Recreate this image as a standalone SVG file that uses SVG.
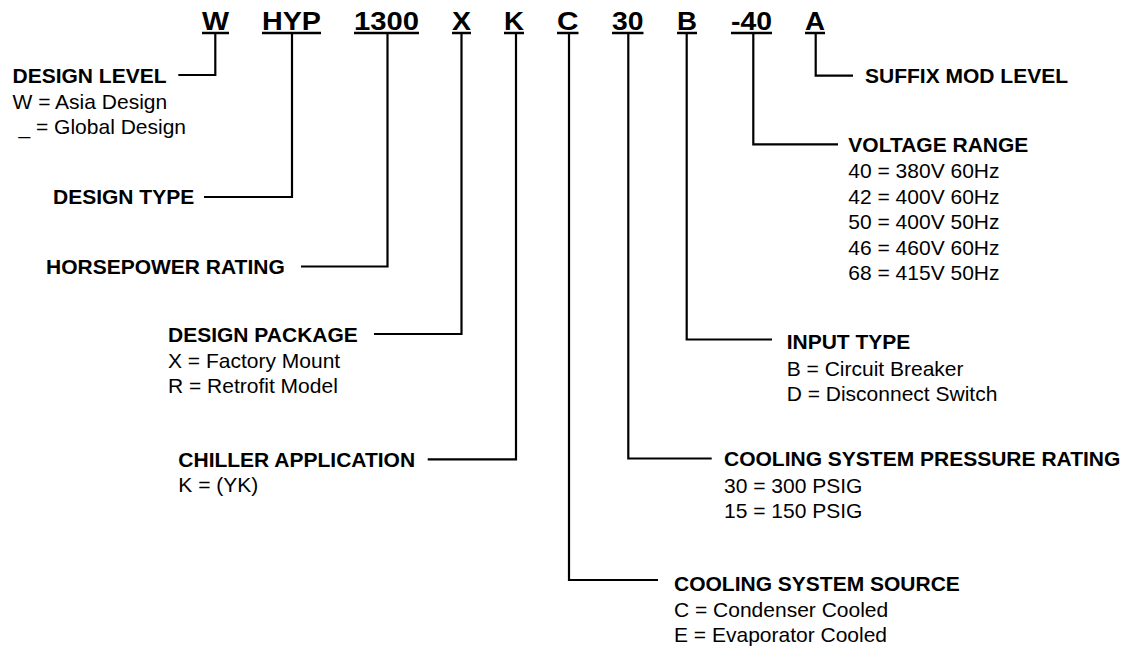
<svg xmlns="http://www.w3.org/2000/svg" width="1132" height="647" viewBox="0 0 1132 647">
<style>
.code{font-family:"Liberation Sans",Arial,sans-serif;font-weight:bold;font-size:26px;fill:#000}
.lbl{font-family:"Liberation Sans",Arial,sans-serif;font-weight:bold;font-size:21px;fill:#000}
.opt{font-family:"Liberation Sans",Arial,sans-serif;font-size:21px;fill:#000}
.ul{stroke:#000;stroke-width:2.5;fill:none}
.conn{stroke:#000;stroke-width:2.2;fill:none}
</style>
<rect width="1132" height="647" fill="#fff"/>
<g id="codes">
<text class="code" x="202" y="30" textLength="27" lengthAdjust="spacingAndGlyphs">W</text>
<line class="ul" x1="202" y1="33" x2="229" y2="33"/>
<text class="code" x="262" y="30" textLength="59" lengthAdjust="spacingAndGlyphs">HYP</text>
<line class="ul" x1="262" y1="33" x2="321" y2="33"/>
<text class="code" x="354" y="30" textLength="65" lengthAdjust="spacingAndGlyphs">1300</text>
<line class="ul" x1="354" y1="33" x2="419" y2="33"/>
<text class="code" x="452" y="30" textLength="19" lengthAdjust="spacingAndGlyphs">X</text>
<line class="ul" x1="452" y1="33" x2="471" y2="33"/>
<text class="code" x="504" y="30" textLength="20" lengthAdjust="spacingAndGlyphs">K</text>
<line class="ul" x1="504" y1="33" x2="524" y2="33"/>
<text class="code" x="557" y="30" textLength="21.5" lengthAdjust="spacingAndGlyphs">C</text>
<line class="ul" x1="557" y1="33" x2="578.5" y2="33"/>
<text class="code" x="612" y="30" textLength="31.5" lengthAdjust="spacingAndGlyphs">30</text>
<line class="ul" x1="612" y1="33" x2="643.5" y2="33"/>
<text class="code" x="677" y="30" textLength="20" lengthAdjust="spacingAndGlyphs">B</text>
<line class="ul" x1="677" y1="33" x2="697" y2="33"/>
<text class="code" x="731" y="30" textLength="41" lengthAdjust="spacingAndGlyphs">-40</text>
<line class="ul" x1="731" y1="33" x2="772" y2="33"/>
<text class="code" x="805" y="30" textLength="20" lengthAdjust="spacingAndGlyphs">A</text>
<line class="ul" x1="805" y1="33" x2="825" y2="33"/>
</g>
<g id="connectors">
<polyline class="conn" points="215.3,33 215.3,75 178.3,75"/>
<polyline class="conn" points="292,33 292,197 204,197"/>
<polyline class="conn" points="387.5,33 387.5,266.5 301,266.5"/>
<polyline class="conn" points="461.5,33 461.5,334 374,334"/>
<polyline class="conn" points="516,33 516,459.3 427.7,459.3"/>
<polyline class="conn" points="569,33 569,580 658,580"/>
<polyline class="conn" points="628.3,33 628.3,458.5 711.7,458.5"/>
<polyline class="conn" points="686.7,33 686.7,339.5 772,339.5"/>
<polyline class="conn" points="753.3,33 753.3,144.3 838,144.3"/>
<polyline class="conn" points="815.7,33 815.7,75.7 853,75.7"/>
</g>
<g id="design-level">
<text class="lbl" x="12.5" y="82.7">DESIGN LEVEL</text>
<text class="opt" x="12.5" y="108.5">W = Asia Design</text>
<text class="opt" x="12.5" y="134"> <tspan x="18.5">_ = Global Design</tspan></text>
</g>
<g id="design-type">
<text class="lbl" x="53" y="204">DESIGN TYPE</text>
</g>
<g id="horsepower-rating">
<text class="lbl" x="46" y="274">HORSEPOWER RATING</text>
</g>
<g id="design-package">
<text class="lbl" x="168" y="341.5">DESIGN PACKAGE</text>
<text class="opt" x="168" y="367.5">X = Factory Mount</text>
<text class="opt" x="168" y="393">R = Retrofit Model</text>
</g>
<g id="chiller-application">
<text class="lbl" x="178.3" y="466.5">CHILLER APPLICATION</text>
<text class="opt" x="178.3" y="492">K = (YK)</text>
</g>
<g id="cooling-system-source">
<text class="lbl" x="674" y="590.5">COOLING SYSTEM SOURCE</text>
<text class="opt" x="674" y="616.5">C = Condenser Cooled</text>
<text class="opt" x="674" y="642">E = Evaporator Cooled</text>
</g>
<g id="cooling-system-pressure-rating">
<text class="lbl" x="724" y="466">COOLING SYSTEM PRESSURE RATING</text>
<text class="opt" x="724" y="492.5">30 = 300 PSIG</text>
<text class="opt" x="724" y="518">15 = 150 PSIG</text>
</g>
<g id="input-type">
<text class="lbl" x="786.7" y="349">INPUT TYPE</text>
<text class="opt" x="786.7" y="375.5">B = Circuit Breaker</text>
<text class="opt" x="786.7" y="401">D = Disconnect Switch</text>
</g>
<g id="voltage-range">
<text class="lbl" x="848.3" y="151.7">VOLTAGE RANGE</text>
<text class="opt" x="848.3" y="178.3">40 = 380V 60Hz</text>
<text class="opt" x="848.3" y="203.5">42 = 400V 60Hz</text>
<text class="opt" x="848.3" y="229.2">50 = 400V 50Hz</text>
<text class="opt" x="848.3" y="254.5">46 = 460V 60Hz</text>
<text class="opt" x="848.3" y="280">68 = 415V 50Hz</text>
</g>
<g id="suffix-mod-level">
<text class="lbl" x="865" y="83">SUFFIX MOD LEVEL</text>
</g>
</svg>
